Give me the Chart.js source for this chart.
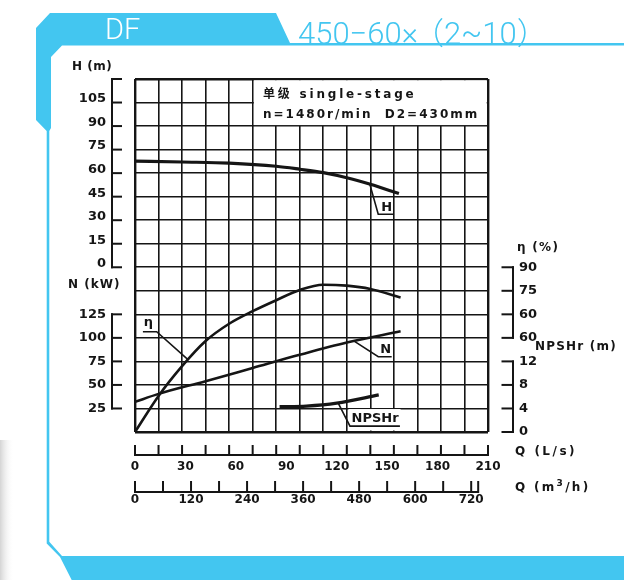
<!DOCTYPE html>
<html><head><meta charset="utf-8">
<script src="https://cdn.jsdelivr.net/npm/chart.js@4/dist/chart.umd.min.js"></script>
<style>
html,body{margin:0;padding:0;background:#fff;}
#wrap{position:relative;width:624px;height:580px;overflow:hidden;background:#fff;}
#frame{position:absolute;left:0;top:0;}
#c{position:absolute;left:0;top:0;}
.t{position:absolute;font-family:"DejaVu Sans",sans-serif;font-weight:bold;color:#151515;white-space:pre;line-height:1;z-index:3;}
.hd{position:absolute;font-family:Roboto,"Noto Sans",sans-serif;font-weight:300;white-space:pre;line-height:1;z-index:3;}
.fw{font-family:"Noto Sans CJK SC",sans-serif;font-weight:300;}
</style></head><body>
<div id="wrap">
<svg id="frame" width="624" height="580">
  <defs><linearGradient id="sh" x1="0" x2="1" y1="0" y2="0"><stop offset="0" stop-color="#d4d4d4"/><stop offset="1" stop-color="#ffffff" stop-opacity="0"/></linearGradient></defs>
  <rect x="0" y="440" width="14" height="140" fill="url(#sh)"/>
  <polygon fill="#43C6F0" points="36,28 50,13 276,13 290,43 624,43 624,45.5 62,45.5 51,57 51,128 49.3,131 49.3,541.7 62,556 624,556 624,580 71.7,580 60,557 46.7,543.5 46.7,131 36,120"/>
</svg>
<div class="hd" style="left:105px;top:15.2px;font-size:29px;color:#fff;">DF</div>
<div class="hd" style="left:298px;top:15.3px;font-size:31px;color:#43C6F0;letter-spacing:0px;">450−60×<span class="fw" style="margin-left:-5px;margin-right:0px;">（</span><span style="letter-spacing:0px;">2~10</span><span class="fw" style="margin-left:0px;">）</span></div>

<div class="t" style="left:72px;top:60.2px;font-size:12px;letter-spacing:0.5px;">H (m)</div>
<div class="t" style="left:68px;top:278.2px;font-size:12px;letter-spacing:1px;">N (kW)</div>
<div class="t" style="left:517px;top:240.5px;font-size:12px;letter-spacing:1.3px;">η (%)</div>
<div class="t" style="left:535px;top:340px;font-size:12px;letter-spacing:1.2px;">NPSHr (m)</div>
<div class="t" style="left:515px;top:445px;font-size:12px;letter-spacing:2.5px;">Q (L/s)</div>
<div class="t" style="left:515px;top:479px;font-size:12px;letter-spacing:2.3px;">Q (m<sup style="font-size:9px;">3</sup>/h)</div>
<div class="t" style="left:263px;top:87px;font-size:12px;letter-spacing:2.8px;"><span style="font-family:'Noto Sans CJK SC';">单级</span> single-stage</div>
<div class="t" style="left:263px;top:108px;font-size:12px;letter-spacing:2px;">n=1480r/min  D2=430mm</div>

<canvas id="c" width="624" height="580"></canvas>
</div>
<script>
// ---------- data ----------
const qHead   = [0, 28, 56, 84, 98, 112, 126, 140, 157];          // Q (L/s)
const headM   = [67.7, 67.1, 66.4, 64.4, 62.5, 60.3, 57.1, 52.9, 47.0];
const qEff    = [0, 14, 28, 42, 56, 70, 84, 98, 112, 126, 140, 158];
const effPct  = [-15, 8, 27, 43, 54, 62, 69, 75.5, 78.9, 78.3, 76.2, 70.8];
const qPower  = [0, 14, 42, 70, 98, 126, 158];
const powerKW = [32, 40.5, 54, 68, 82, 95, 107];
const qNpsh   = [86, 102, 120, 145];
const npshM   = [4.3, 4.4, 4.9, 6.3];

// tick labels
const flowLsTicks   = [0, 30, 60, 90, 120, 150, 180, 210];
const flowM3Ticks   = [0, 120, 240, 360, 480, 600, 720];
const headTicks     = [0, 15, 30, 45, 60, 75, 90, 105];
const powerTicks    = [25, 50, 75, 100, 125];
const effTicks      = [45, 60, 75, 90];
const effTickLabels = ['60', '60', '75', '90'];
const npshTicks     = [0, 4, 8, 12];
// tick marks on the flow rulers
const flowLsMarks = [0,14,28,42,56,70,84,98,112,126,140,154,168,182,196,210];
const flowM3Marks = [0,60,120,180,240,300,360,420,480,540,600,660,720];

const INK = '#151515';
const tickFont = {family: '"DejaVu Sans"', size: 13, weight: 'bold'};
const tickFontS = {family: '"DejaVu Sans"', size: 12, weight: 'bold'};
const fixW = w => s => { s.width = w; };
const fixH = h => s => { s.height = h; };
const setTicks = vals => s => { s.ticks = vals.map(v => ({value: v})); };
const pts = (xs, ys) => xs.map((x, i) => ({x: x, y: ys[i]}));
const hidden = {display: false, drawTicks: false};

const deco = {
  id: 'deco',
  beforeDatasetsDraw(chart) {
    const {ctx} = chart;
    const gx = chart.scales.gx, gy = chart.scales.gy, x = chart.scales.x, yNp = chart.scales.yNp;
    ctx.save();
    ctx.fillStyle = '#fff';
    let x0 = gx.getPixelForValue(5) + 1.2, x1 = gx.getPixelForValue(15) - 1.3;
    let y0 = gy.getPixelForValue(15) + 1.3, y1 = gy.getPixelForValue(13) - 1.0;
    ctx.fillRect(x0, y0, x1 - x0, y1 - y0);
    x0 = x.getPixelForValue(127); x1 = x.getPixelForValue(158);
    y0 = yNp.getPixelForValue(3.9); y1 = yNp.getPixelForValue(0.25);
    ctx.fillRect(x0, y0, x1 - x0, y1 - y0);
    ctx.restore();
  },
  afterDraw(chart) {
    const {ctx, chartArea: ca} = chart;
    const s = chart.scales;
    ctx.save();
    ctx.strokeStyle = INK; ctx.fillStyle = INK; ctx.lineWidth = 2; ctx.lineCap = 'butt';
    const line = (a, b, c, d) => { ctx.beginPath(); ctx.moveTo(a, b); ctx.lineTo(c, d); ctx.stroke(); };
    const bl = ca.left - 23;
    const bracketL = (sc, lo, hi, vals) => {
      line(bl, sc.getPixelForValue(hi) - 1, bl, sc.getPixelForValue(lo) + 1);
      vals.forEach(v => { const y = sc.getPixelForValue(v); line(bl - 1, y, bl + 10, y); });
    };
    bracketL(s.yH, 0, 120, [0, 15, 30, 45, 60, 75, 90, 105, 120]);
    bracketL(s.yN, 25, 125, powerTicks);
    const br = ca.right + 25;
    const bracketR = (sc, lo, hi, vals) => {
      line(br, sc.getPixelForValue(hi) - 1, br, sc.getPixelForValue(lo) + 1);
      vals.forEach(v => { const y = sc.getPixelForValue(v); line(br + 1, y, br - 11.5, y); });
    };
    bracketR(s.yEta, 45, 90, effTicks);
    bracketR(s.yNp, 0, 12, npshTicks);
    const yLs = ca.bottom + 23, yM3 = ca.bottom + 60;
    line(s.x.getPixelForValue(0) - 1, yLs, s.x.getPixelForValue(210) + 1, yLs);
    flowLsMarks.forEach(v => { const px = s.x.getPixelForValue(v); line(px, yLs, px, yLs - 10); });
    line(s.xm.getPixelForValue(0) - 1, yM3, s.xm.getPixelForValue(735), yM3);
    flowM3Marks.forEach(v => { const px = s.xm.getPixelForValue(v); line(px, yM3, px, yM3 - 11); });
    { const px = s.xm.getPixelForValue(735); line(px, yM3 + 1, px, yM3 - 11); }

    ctx.font = 'bold 13px "DejaVu Sans"';
    ctx.textAlign = 'center'; ctx.textBaseline = 'middle';
    ctx.lineWidth = 1.6;
    const annos = [
      {axis: 'yEta', text: 'η', t: [7.9, 55], path: [[31.7, 31], [12.9, 48.9], [4.7, 48.9]]},
      {axis: 'yN', text: 'N', t: [149.2, 87], path: [[129.9, 97], [144.7, 79.9], [152.7, 79.9]]},
      {axis: 'yH', text: 'H', t: [149.7, 37.8], path: [[139.8, 52.5], [144.7, 33.8], [153.6, 33.8]]},
      {axis: 'yNp', text: 'NPSHr', t: [142.8, 2.3], path: [[120.9, 4.9], [127.9, 1.0], [157.6, 1.0]]}
    ];
    annos.forEach(a => {
      const ys = s[a.axis];
      ctx.beginPath();
      a.path.forEach((p, i) => {
        const px = s.x.getPixelForValue(p[0]), py = ys.getPixelForValue(p[1]);
        if (i === 0) ctx.moveTo(px, py); else ctx.lineTo(px, py);
      });
      ctx.stroke();
      ctx.fillText(a.text, s.x.getPixelForValue(a.t[0]), ys.getPixelForValue(a.t[1]));
    });
    ctx.restore();
  }
};

const gridLW = ctx => (ctx.index === 0 || ctx.index === 15) ? 2.4 : 1.6;

new Chart(document.getElementById('c'), {
  type: 'line',
  data: {
    datasets: [
      {label: 'H', data: pts(qHead, headM), yAxisID: 'yH', borderWidth: 3.2},
      {label: 'η', data: pts(qEff, effPct), yAxisID: 'yEta', borderWidth: 2.6},
      {label: 'N', data: pts(qPower, powerKW), yAxisID: 'yN', borderWidth: 2.6},
      {label: 'NPSHr', data: pts(qNpsh, npshM), yAxisID: 'yNp', borderWidth: 3.2}
    ].map(d => Object.assign(d, {xAxisID: 'x', borderColor: INK, pointRadius: 0, clip: false,
                                 cubicInterpolationMode: 'monotone', fill: false}))
  },
  options: {
    responsive: false, animation: false, devicePixelRatio: 1,
    layout: {padding: {left: 0, right: 0, top: 79, bottom: 0}},
    plugins: {legend: {display: false}, tooltip: {enabled: false}},
    scales: {
      gx: {type: 'linear', position: 'bottom', weight: -5, min: 0, max: 15,
           ticks: {display: false, stepSize: 1}, grid: {color: INK, lineWidth: gridLW, drawTicks: false},
           border: {display: false}, afterFit: fixH(0)},
      gy: {type: 'linear', position: 'left', weight: -5, min: 0, max: 15,
           ticks: {display: false, stepSize: 1}, grid: {color: INK, lineWidth: gridLW, drawTicks: false},
           border: {display: false}, afterFit: fixW(0)},
      x: {type: 'linear', position: 'bottom', weight: 0, min: 0, max: 210, afterBuildTicks: setTicks(flowLsTicks),
          ticks: {autoSkip: false, maxRotation: 0, padding: 27.5, font: tickFontS, color: INK},
          grid: hidden, border: {display: false}, afterFit: fixH(50)},
      xm: {type: 'linear', position: 'bottom', weight: 1, min: 0, max: 756, afterBuildTicks: setTicks(flowM3Ticks),
          ticks: {autoSkip: false, maxRotation: 0, padding: 10.8, font: tickFontS, color: INK},
          grid: hidden, border: {display: false}, afterFit: fixH(98)},
      yH: {type: 'linear', position: 'left', stack: 'L', stackWeight: 8, weight: 2, min: 0, max: 120,
          afterBuildTicks: setTicks(headTicks),
          ticks: {autoSkip: false, padding: 29, labelOffset: -3.5, font: tickFont, color: INK},
          grid: hidden, border: {display: false}, afterFit: fixW(135)},
      yN: {type: 'linear', position: 'left', stack: 'L', stackWeight: 7, weight: 1, min: 0, max: 175,
          afterBuildTicks: setTicks(powerTicks),
          ticks: {autoSkip: false, padding: 29, font: tickFont, color: INK},
          grid: hidden, border: {display: false}, afterFit: fixW(135)},
      yEta: {type: 'linear', position: 'right', stack: 'R', stackWeight: 12, weight: 1, min: 30, max: 210,
          afterBuildTicks: setTicks(effTicks),
          ticks: {autoSkip: false, padding: 31, font: tickFont, color: INK,
                  callback: (v) => effTickLabels[effTicks.indexOf(v)]},
          grid: hidden, border: {display: false}, afterFit: fixW(136)},
      yNp: {type: 'linear', position: 'right', stack: 'R', stackWeight: 3, weight: 2, min: 0, max: 12,
          afterBuildTicks: setTicks(npshTicks),
          ticks: {autoSkip: false, padding: 31, font: tickFont, color: INK},
          grid: hidden, border: {display: false}, afterFit: fixW(136)}
    }
  },
  plugins: [deco]
});
</script>
</body></html>
